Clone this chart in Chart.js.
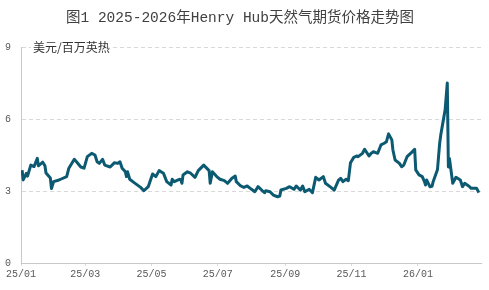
<!DOCTYPE html>
<html>
<head>
<meta charset="utf-8">
<script src="https://cdn.jsdelivr.net/npm/chart.js@4"></script>
<style>
  html, body { margin: 0; padding: 0; background: #fff; }
  #wrap { width: 489px; height: 290px; }
</style>
</head>
<body>
<div id="wrap"><canvas id="gas-chart" width="489" height="290"></canvas></div>
<script>
const chartTitle = '图1 2025-2026年Henry Hub天然气期货价格走势图';
const unitLabel = '美元/百万英热';

const tickDates = ['2025-01-01', '2025-03-01', '2025-05-01', '2025-07-01', '2025-09-01', '2025-11-01', '2026-01-01'];
const tickLabels = ['25/01', '25/03', '25/05', '25/07', '25/09', '25/11', '26/01'];
const yTicks = [0, 3, 6, 9];

const dates = [
  '2025-01-02', '2025-01-03', '2025-01-06', '2025-01-07', '2025-01-10', '2025-01-13', '2025-01-16', '2025-01-17',
  '2025-01-21', '2025-01-23', '2025-01-24', '2025-01-28', '2025-01-29', '2025-01-31', '2025-02-05', '2025-02-07',
  '2025-02-12', '2025-02-14', '2025-02-19', '2025-02-21', '2025-02-25', '2025-02-28', '2025-03-03', '2025-03-07',
  '2025-03-10', '2025-03-12', '2025-03-14', '2025-03-17', '2025-03-19', '2025-03-24', '2025-03-28', '2025-03-31',
  '2025-04-02', '2025-04-04', '2025-04-07', '2025-04-08', '2025-04-09', '2025-04-11', '2025-04-15', '2025-04-21',
  '2025-04-24', '2025-04-28', '2025-05-02', '2025-05-05', '2025-05-08', '2025-05-12', '2025-05-15', '2025-05-19',
  '2025-05-20', '2025-05-22', '2025-05-27', '2025-05-28', '2025-05-29', '2025-05-30', '2025-06-03', '2025-06-06',
  '2025-06-10', '2025-06-13', '2025-06-18', '2025-06-23', '2025-06-24', '2025-06-26', '2025-06-30', '2025-07-03',
  '2025-07-07', '2025-07-10', '2025-07-14', '2025-07-17', '2025-07-18', '2025-07-22', '2025-07-25', '2025-07-28',
  '2025-08-01', '2025-08-04', '2025-08-07', '2025-08-11', '2025-08-13', '2025-08-14', '2025-08-18', '2025-08-21',
  '2025-08-25', '2025-08-27', '2025-08-28', '2025-09-02', '2025-09-05', '2025-09-09', '2025-09-11', '2025-09-15',
  '2025-09-17', '2025-09-19', '2025-09-23', '2025-09-26', '2025-09-29', '2025-10-02', '2025-10-06', '2025-10-08',
  '2025-10-13', '2025-10-16', '2025-10-20', '2025-10-22', '2025-10-24', '2025-10-27', '2025-10-29', '2025-10-31',
  '2025-11-03', '2025-11-06', '2025-11-07', '2025-11-11', '2025-11-13', '2025-11-17', '2025-11-19', '2025-11-21',
  '2025-11-25', '2025-11-28', '2025-12-01', '2025-12-03', '2025-12-05', '2025-12-08', '2025-12-09', '2025-12-11',
  '2025-12-15', '2025-12-17', '2025-12-19', '2025-12-22', '2025-12-26', '2025-12-29', '2025-12-30', '2026-01-02',
  '2026-01-05', '2026-01-07', '2026-01-08', '2026-01-09', '2026-01-12', '2026-01-14', '2026-01-15', '2026-01-19',
  '2026-01-21', '2026-01-22', '2026-01-26', '2026-01-27', '2026-01-28', '2026-01-29', '2026-01-30', '2026-02-02',
  '2026-02-05', '2026-02-09', '2026-02-11', '2026-02-13', '2026-02-17', '2026-02-19', '2026-02-24', '2026-02-26'
];

const prices = [
  3.87, 3.46, 3.74, 3.62, 4.08, 4.02, 4.36, 4.05,
  4.20, 4.05, 3.75, 3.54, 3.10, 3.39, 3.46, 3.50,
  3.60, 3.95, 4.32, 4.22, 4.00, 3.95, 4.43, 4.57,
  4.50, 4.22, 4.15, 4.32, 4.08, 4.00, 4.18, 4.15,
  4.22, 3.95, 3.80, 3.60, 3.80, 3.49, 3.35, 3.15,
  3.01, 3.18, 3.71, 3.60, 3.85, 3.74, 3.39, 3.25,
  3.49, 3.39, 3.49, 3.46, 3.32, 3.67, 3.80, 3.74,
  3.57, 3.85, 4.08, 3.85, 3.32, 3.80, 3.60, 3.49,
  3.43, 3.32, 3.53, 3.62, 3.39, 3.21, 3.15, 3.21,
  3.07, 2.97, 3.18, 3.01, 2.93, 3.01, 2.97, 2.83,
  2.76, 2.79, 3.04, 3.11, 3.18, 3.07, 3.21, 3.04,
  3.21, 2.97, 3.07, 2.93, 3.57, 3.46, 3.60, 3.32,
  3.15, 3.04, 3.45, 3.53, 3.39, 3.49, 3.43, 4.18,
  4.40, 4.46, 4.43, 4.57, 4.74, 4.46, 4.57, 4.64,
  4.57, 4.92, 4.99, 5.05, 5.38, 5.13, 4.71, 4.29,
  4.15, 4.01, 4.08, 4.43, 4.60, 4.74, 3.88, 3.67,
  3.60, 3.39, 3.25, 3.46, 3.18, 3.20, 3.39, 3.90,
  4.99, 5.33, 6.38, 6.93, 7.50, 4.00, 4.35, 3.32,
  3.57, 3.46, 3.18, 3.32, 3.20, 3.11, 3.11, 2.93
];

// days since 2025-01-01, so the x axis is a plain linear scale
function dayNum(s) {
  const p = s.split('-').map(Number);
  return (Date.UTC(p[0], p[1] - 1, p[2]) - Date.UTC(2025, 0, 1)) / 86400000;
}

const tickDays = tickDates.map(dayNum);
const points = dates.map((d, i) => ({ x: dayNum(d), y: prices[i] }));

const textPlugin = {
  id: 'textPlugin',
  afterDraw(chart) {
    const ctx = chart.ctx;
    const area = chart.chartArea;
    ctx.save();
    ctx.fillStyle = '#404040';
    ctx.font = '14.5px "Liberation Mono", "Noto Sans CJK SC"';
    ctx.textAlign = 'center';
    ctx.textBaseline = 'middle';
    ctx.fillText(chartTitle, 240, 18);

    ctx.font = '12px "Noto Sans CJK SC"';
    ctx.textAlign = 'left';
    const w = ctx.measureText(unitLabel).width;
    ctx.fillStyle = '#fff';
    ctx.fillRect(area.left + 10, area.top - 8, w + 4, 16);
    ctx.fillStyle = '#333';
    ctx.fillText(unitLabel, area.left + 12, area.top);
    ctx.restore();
  }
};

const ctx = document.getElementById('gas-chart').getContext('2d');
new Chart(ctx, {
  type: 'line',
  data: {
    datasets: [{
      data: points,
      borderColor: '#0c5a72',
      borderWidth: 3,
      pointRadius: 0,
      tension: 0,
      borderJoinStyle: 'round'
    }]
  },
  options: {
    responsive: false,
    animation: false,
    layout: { padding: { top: 47, right: 8, left: 0, bottom: 0 } },
    plugins: {
      legend: { display: false },
      tooltip: { enabled: false },
      title: { display: false }
    },
    scales: {
      x: {
        type: 'linear',
        min: 0,
        max: 423,
        afterBuildTicks(scale) {
          scale.ticks = tickDays.map(v => ({ value: v }));
        },
        afterFit(scale) { scale.height = 27; },
        ticks: {
          autoSkip: false,
          maxRotation: 0,
          padding: 2,
          color: '#595959',
          font: { family: '"Liberation Mono"', size: 10 },
          callback(value) {
            const i = tickDays.indexOf(value);
            return i >= 0 ? tickLabels[i] : '';
          }
        },
        grid: { drawOnChartArea: false, drawTicks: true, tickLength: 3, color: '#dcdcdc' },
        border: { color: '#c8c8c8', width: 1 }
      },
      y: {
        min: 0,
        max: 9,
        afterBuildTicks(scale) {
          scale.ticks = yTicks.map(v => ({ value: v }));
        },
        afterFit(scale) { scale.width = 21; },
        ticks: {
          padding: 10,
          color: '#595959',
          font: { family: '"Liberation Mono"', size: 10 }
        },
        grid: {
          drawTicks: false,
          color: c => (c.tick && c.tick.value === 0) ? 'rgba(0,0,0,0)' : '#d9d9d9'
        },
        border: { color: '#c8c8c8', width: 1, dash: [4, 3] }
      }
    }
  },
  plugins: [textPlugin]
});
</script>
</body>
</html>
